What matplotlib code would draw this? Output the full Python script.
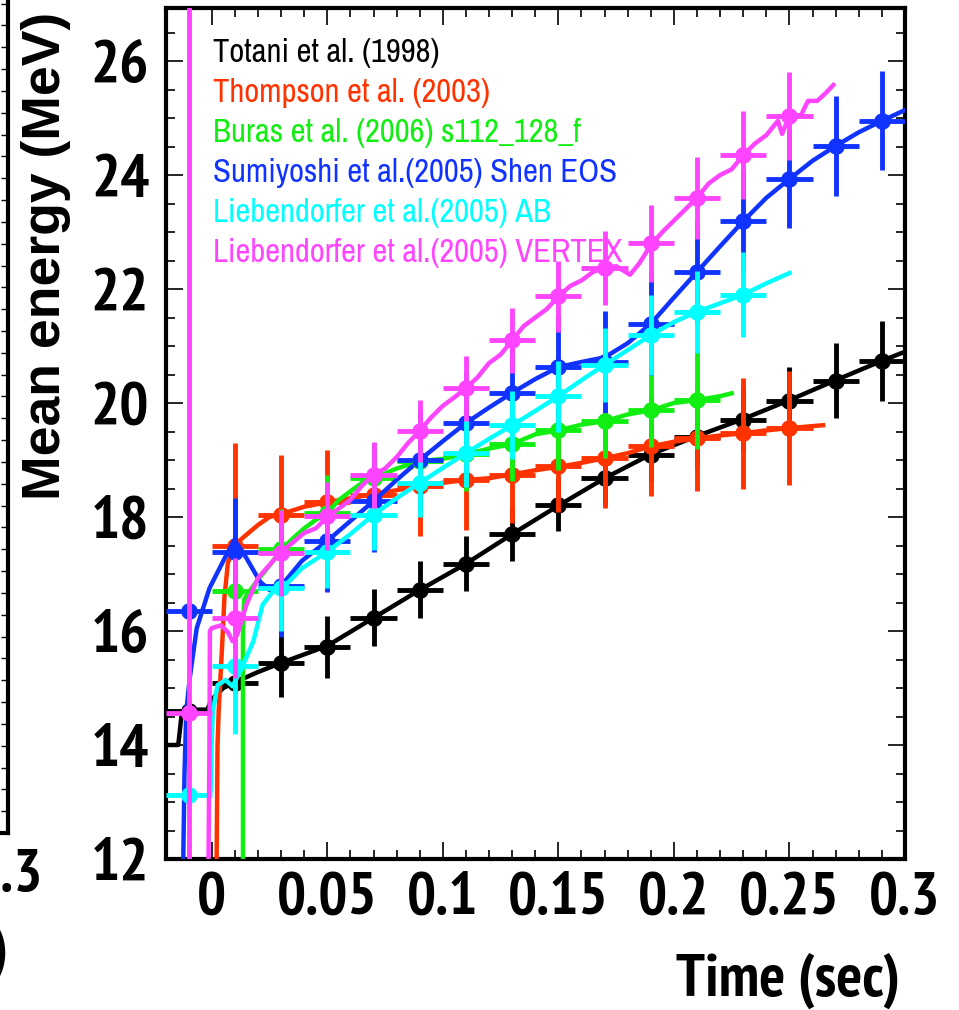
import matplotlib
matplotlib.use("Agg")
import matplotlib.pyplot as plt
from matplotlib import font_manager as fm
from matplotlib.font_manager import FontProperties
from matplotlib.ticker import MultipleLocator

# ---------------- data ----------------
series_labels = [
    "Totani et al. (1998)",
    "Thompson et al. (2003)",
    "Buras et al. (2006) s112_128_f",
    "Sumiyoshi et al.(2005) Shen EOS",
    "Liebendorfer et al.(2005) AB",
    "Liebendorfer et al.(2005) VERTEX",
]
series_colors = ["#000000", "#FF3300", "#11EE11", "#1133FF", "#00FFFF", "#FF44FF"]

# binned points (bin centre, mean energy, error); bins are 0.02 s wide
totani_t = [-0.01, 0.01, 0.03, 0.05, 0.07, 0.09, 0.11, 0.13, 0.15, 0.17, 0.19, 0.21, 0.23, 0.25, 0.27, 0.29]
totani_e = [14.6, 15.09, 15.44, 15.72, 16.23, 16.72, 17.18, 17.7, 18.21, 18.68, 19.09, 19.4, 19.7, 20.04, 20.39, 20.74]
totani_err = [0.1, 0.2, 0.6, 0.55, 0.5, 0.5, 0.48, 0.47, 0.45, 0.45, 0.45, 0.5, 0.55, 0.6, 0.66, 0.7]

thompson_t = [0.01, 0.03, 0.05, 0.07, 0.09, 0.11, 0.13, 0.15, 0.17, 0.19, 0.21, 0.23, 0.25]
thompson_e = [17.49, 18.03, 18.26, 18.39, 18.54, 18.65, 18.74, 18.89, 19.03, 19.24, 19.38, 19.47, 19.56]
thompson_err = [1.8, 1.06, 0.92, 0.9, 0.88, 0.88, 0.85, 0.8, 0.88, 0.87, 0.92, 0.97, 1.0]

buras_t = [0.01, 0.03, 0.05, 0.07, 0.09, 0.11, 0.13, 0.15, 0.17, 0.19, 0.21]
buras_e = [16.7, 17.44, 18.07, 18.68, 18.98, 19.1, 19.28, 19.52, 19.68, 19.87, 20.05]
buras_err = [0.7, 0.7, 0.67, 0.62, 0.65, 0.65, 0.65, 0.7, 0.65, 0.65, 0.85]

sumiyoshi_t = [-0.01, 0.01, 0.03, 0.05, 0.07, 0.09, 0.11, 0.13, 0.15, 0.17, 0.19, 0.21, 0.23, 0.25, 0.27, 0.29]
sumiyoshi_e = [16.35, 17.39, 16.79, 17.58, 18.28, 19.0, 19.65, 20.18, 20.63, 20.72, 21.39, 22.29, 23.19, 23.93, 24.51, 24.95]
sumiyoshi_err = [0.1, 0.94, 0.9, 0.9, 0.9, 0.9, 0.9, 0.95, 0.9, 0.9, 0.9, 0.9, 0.9, 0.86, 0.88, 0.87]

ab_t = [-0.01, 0.01, 0.03, 0.05, 0.07, 0.09, 0.11, 0.13, 0.15, 0.17, 0.19, 0.21, 0.23]
ab_e = [13.12, 15.39, 16.75, 17.39, 18.04, 18.6, 19.12, 19.61, 20.12, 20.67, 21.19, 21.6, 21.9]
ab_err = [0.1, 1.2, 0.75, 0.64, 0.62, 0.6, 0.6, 0.6, 0.62, 0.65, 0.7, 0.72, 0.75]

vertex_t = [-0.01, 0.01, 0.03, 0.05, 0.07, 0.09, 0.11, 0.13, 0.15, 0.17, 0.19, 0.21, 0.23, 0.25]
vertex_e = [14.56, 16.23, 17.37, 18.02, 18.74, 19.51, 20.26, 21.1, 21.87, 22.37, 22.8, 23.6, 24.35, 25.04]
vertex_err = [15.0, 1.05, 0.75, 0.6, 0.58, 0.55, 0.57, 0.57, 0.62, 0.65, 0.68, 0.72, 0.77, 0.77]

# continuous model curves
totani_curve_t = [-0.021, -0.0145, -0.013, -0.0115, -0.002, 0.0, 0.005, 0.01, 0.02, 0.03, 0.05, 0.07, 0.09,
                  0.11, 0.13, 0.15, 0.17, 0.19, 0.21, 0.23, 0.25, 0.27, 0.29, 0.3]
totani_curve_e = [14.0, 14.0, 14.55, 14.62, 14.62, 14.8, 15.0, 15.1, 15.28, 15.44, 15.74, 16.23, 16.72,
                  17.18, 17.7, 18.2, 18.68, 19.1, 19.42, 19.72, 20.05, 20.4, 20.74, 20.9]

thompson_curve_t = [0.002, 0.0025, 0.003, 0.0045, 0.0055, 0.007, 0.01, 0.013, 0.02, 0.025, 0.03, 0.04, 0.05,
                    0.06, 0.07, 0.08, 0.09, 0.1, 0.11, 0.12, 0.13, 0.14, 0.15, 0.16, 0.17, 0.18, 0.19,
                    0.2, 0.21, 0.22, 0.23, 0.24, 0.25, 0.2645]
thompson_curve_e = [11.5, 14.0, 14.6, 15.75, 16.6, 17.2, 17.5, 17.62, 17.86, 18.0, 18.05, 18.18, 18.26,
                    18.33, 18.4, 18.47, 18.54, 18.6, 18.65, 18.68, 18.75, 18.82, 18.88, 18.95, 19.03, 19.12, 19.24,
                    19.32, 19.38, 19.43, 19.47, 19.52, 19.56, 19.61]

buras_curve_t = [0.0135, 0.0135, 0.014, 0.016, 0.02, 0.025, 0.03, 0.035, 0.04, 0.045, 0.05, 0.055, 0.06,
                 0.065, 0.07, 0.08, 0.09, 0.1, 0.11, 0.12, 0.13, 0.14, 0.15, 0.16, 0.17, 0.18, 0.19,
                 0.2, 0.21, 0.22, 0.225]
buras_curve_e = [11.5, 16.0, 16.55, 16.68, 16.9, 17.15, 17.42, 17.62, 17.8, 17.95, 18.07, 18.3, 18.45,
                 18.6, 18.68, 18.85, 18.98, 19.02, 19.1, 19.2, 19.28, 19.45, 19.52, 19.62, 19.68, 19.8, 19.87,
                 20.0, 20.05, 20.12, 20.17]

sumiyoshi_curve_t = [-0.0125, -0.0118, -0.011, -0.0095, -0.0065, -0.001, 0.005, 0.0098, 0.015, 0.0208,
                     0.025, 0.03, 0.039, 0.05, 0.06, 0.07, 0.08, 0.09, 0.1, 0.11, 0.12, 0.13, 0.14, 0.15,
                     0.16, 0.17, 0.18, 0.19, 0.2, 0.21, 0.22, 0.23, 0.24, 0.25, 0.26, 0.27, 0.28, 0.29, 0.3]
sumiyoshi_curve_e = [11.5, 13.5, 14.6, 15.18, 16.05, 16.75, 17.23, 17.6, 17.28, 16.87,
                     16.72, 16.79, 17.23, 17.58, 17.93, 18.28, 18.65, 19.0, 19.33, 19.65, 19.92, 20.18, 20.42, 20.63,
                     20.72, 20.8, 21.05, 21.39, 21.85, 22.3, 22.75, 23.19, 23.6, 23.93, 24.25, 24.51, 24.75, 24.95, 25.14]

ab_curve_t = [-0.0005, 0.0, 0.0005, 0.0025, 0.006, 0.009, 0.013, 0.018, 0.022, 0.026, 0.032, 0.039, 0.05,
              0.06, 0.07, 0.08, 0.09, 0.1, 0.11, 0.12, 0.13, 0.14, 0.15, 0.16, 0.17, 0.18, 0.19, 0.2,
              0.21, 0.22, 0.23, 0.24, 0.25]
ab_curve_e = [13.2, 14.1, 14.6, 15.05, 15.14, 15.03, 15.35, 15.82, 16.46, 16.67, 16.81, 17.1, 17.39,
              17.7, 18.04, 18.33, 18.6, 18.86, 19.12, 19.37, 19.61, 19.86, 20.12, 20.4, 20.67, 20.93, 21.19, 21.42,
              21.6, 21.75, 21.9, 22.1, 22.28]

vertex_curve_t = [-0.0015, -0.001, -0.0008, 0.0, 0.004, 0.007, 0.009, 0.011, 0.015, 0.02, 0.025, 0.03, 0.035,
                  0.04, 0.045, 0.05, 0.055, 0.06, 0.065, 0.07, 0.075, 0.08, 0.085, 0.09, 0.095, 0.1, 0.105,
                  0.11, 0.115, 0.12, 0.125, 0.13, 0.135, 0.14, 0.145, 0.15, 0.155, 0.16, 0.165, 0.17, 0.175,
                  0.181, 0.185, 0.19, 0.195, 0.2, 0.205, 0.21, 0.215, 0.22, 0.225, 0.23, 0.235, 0.24, 0.245,
                  0.2468, 0.25, 0.255, 0.258, 0.262, 0.266, 0.269]
vertex_curve_e = [11.5, 14.0, 16.0, 16.05, 16.1, 15.98, 15.82, 15.93, 16.46, 16.93, 17.16, 17.39, 17.55,
                  17.72, 17.8, 18.0, 18.15, 18.3, 18.55, 18.74, 18.85, 19.05, 19.3, 19.51, 19.75, 19.95, 20.1,
                  20.26, 20.45, 20.7, 20.85, 21.1, 21.35, 21.5, 21.65, 21.87, 22.05, 22.15, 22.3, 22.37, 22.4,
                  22.25, 22.45, 22.77, 23.0, 23.2, 23.4, 23.6, 23.85, 24.0, 24.1, 24.35, 24.55, 24.7, 24.95,
                  24.72, 25.04, 25.05, 25.3, 25.3, 25.45, 25.58]

x_tick_values = [0.0, 0.05, 0.1, 0.15, 0.2, 0.25, 0.3]
x_tick_labels = ["0", "0.05", "0.1", "0.15", "0.2", "0.25", "0.3"]
y_tick_values = [12, 14, 16, 18, 20, 22, 24, 26]
y_tick_labels = ["12", "14", "16", "18", "20", "22", "24", "26"]


# ---------------- fonts ----------------
def _weight_num(w):
    if isinstance(w, (int, float)):
        return int(w)
    return fm.weight_dict.get(str(w).lower(), 400)


def pick_narrow(bold):
    """Find a narrow / condensed sans-serif face; None if there is none."""
    want = 700 if bold else 400
    best = None
    for f in fm.fontManager.ttflist:
        name = f.name.lower()
        base = f.fname.lower().replace("\\", "/").split("/")[-1]
        if "italic" in base or "oblique" in base or f.style != "normal":
            continue
        if "mono" in name or "serif" in name and "sans" not in name:
            continue
        if any(k in base or k in name for k in ("extra", "ultra")) and "condensed" in (base + name):
            continue
        stretch = str(f.stretch).lower()
        if "narrow" in name or "narrow" in base:
            rank = 0
        elif "semi" in base or "semi" in stretch:
            rank = 3
        elif "condensed" in name or "condensed" in base or stretch == "condensed":
            rank = 1 if "roboto" in name else 2
        else:
            continue
        score = (rank, abs(_weight_num(f.weight) - want))
        if best is None or score < best[0]:
            best = (score, f.fname)
    return None if best is None else best[1]


_nb = pick_narrow(True)
_nr = pick_narrow(False)


def narrow_font(size, bold):
    path = _nb if bold else _nr
    if path is not None:
        return FontProperties(fname=path, size=size)
    # no narrow face: shrink so widths stay comparable
    return FontProperties(family="Liberation Sans", weight="bold" if bold else "normal",
                          size=size * 0.82)


TICK_FP = narrow_font(44, True)
TITLE_FP = narrow_font(44, True)
LEGEND_FP = narrow_font(23.5, False)

# ---------------- figure ----------------
W, H = 959, 1010
fig = plt.figure(figsize=(W / 100, H / 100), dpi=100)


def fx(px):
    return px / W


def fy(py):
    return 1 - py / H


# neighbouring panel, only its right edge is inside the canvas
axl = fig.add_axes([fx(-300), fy(833), fx(8) - fx(-300), fy(-40) - fy(833)])
axl.set_xlim(0.0, 0.3)
axl.set_ylim(0, 40)
axl.set_xticks([0.3])
axl.set_xticklabels(["0.3"])
axl.set_yticks(range(1, 40))
axl.yaxis.tick_right()
axl.tick_params(axis="y", direction="in", length=5, width=1.0, labelright=False)
axl.tick_params(axis="x", direction="in", length=0, pad=11)
for lab in axl.get_xticklabels():
    lab.set_fontproperties(TICK_FP)
for s in axl.spines.values():
    s.set_linewidth(3)
fig.text(fx(8), fy(953), "Time (sec)", ha="right", va="center", fontproperties=TITLE_FP)

# main panel
ax = fig.add_axes([fx(166), fy(859), fx(905) - fx(166), fy(8) - fy(859)])
ax.set_xlim(-0.0198, 0.3)
ax.set_ylim(12.0, 26.93)

all_points = [
    (totani_t, totani_e, totani_err),
    (thompson_t, thompson_e, thompson_err),
    (buras_t, buras_e, buras_err),
    (sumiyoshi_t, sumiyoshi_e, sumiyoshi_err),
    (ab_t, ab_e, ab_err),
    (vertex_t, vertex_e, vertex_err),
]
all_curves = [
    (totani_curve_t, totani_curve_e),
    (thompson_curve_t, thompson_curve_e),
    (buras_curve_t, buras_curve_e),
    (sumiyoshi_curve_t, sumiyoshi_curve_e),
    (ab_curve_t, ab_curve_e),
    (vertex_curve_t, vertex_curve_e),
]

for i, ((pt, pe, perr), (ct, ce), col) in enumerate(zip(all_points, all_curves, series_colors)):
    z = 3 + i * 0.1
    ax.plot(ct, ce, color=col, lw=3.2, solid_joinstyle="round", zorder=z)
    ax.errorbar(pt, pe, xerr=0.01, yerr=perr, fmt="o", color=col, ms=12, mew=0,
                elinewidth=3.5, capsize=0, zorder=z)

for i, (lab, col) in enumerate(zip(series_labels, series_colors)):
    ax.text(0.0005, 26.14 - 0.70 * i, lab, color=col, fontproperties=LEGEND_FP,
            ha="left", va="center", zorder=10)

ax.set_xticks(x_tick_values)
ax.set_xticklabels(x_tick_labels)
ax.set_yticks(y_tick_values)
ax.set_yticklabels(y_tick_labels)
ax.xaxis.set_minor_locator(MultipleLocator(0.01))
ax.yaxis.set_minor_locator(MultipleLocator(0.5))
ax.tick_params(which="both", direction="in", top=True, right=True, width=1.2)
ax.tick_params(which="major", length=12)
ax.tick_params(which="minor", length=6.5)
ax.tick_params(axis="x", which="major", pad=9)
ax.tick_params(axis="y", which="major", pad=12)
for lab in ax.get_xticklabels() + ax.get_yticklabels():
    lab.set_fontproperties(TICK_FP)
for s in ax.spines.values():
    s.set_linewidth(3)

fig.text(fx(900), fy(981), "Time (sec)", ha="right", va="center", fontproperties=TITLE_FP)
fig.text(fx(46), fy(12), "Mean energy (MeV)", rotation=90, ha="center", va="top",
         fontsize=38.5, fontweight="bold", family="Liberation Sans")

fig.savefig("out.png", dpi=100)
